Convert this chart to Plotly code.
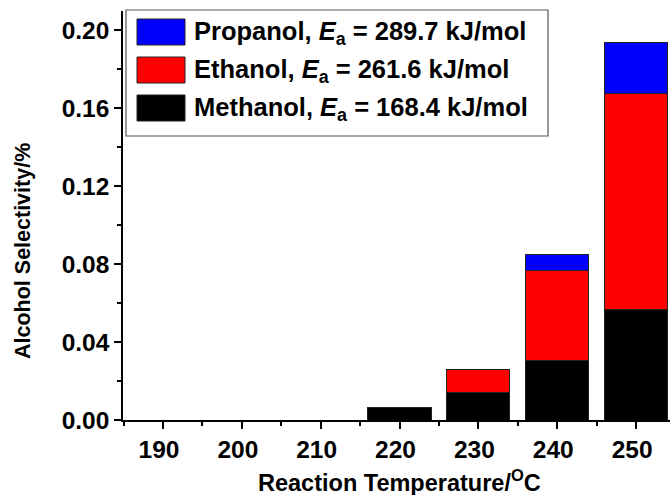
import plotly.graph_objects as go

temps = [190, 200, 210, 220, 230, 240, 250]
methanol = [0, 0, 0, 0.0066, 0.0143, 0.0306, 0.0567]
ethanol = [0, 0, 0, 0, 0.0117, 0.0463, 0.1107]
propanol = [0, 0, 0, 0, 0, 0.0080, 0.0263]
series_names = ["Methanol", "Ethanol", "Propanol"]
ea_values = ["168.4", "261.6", "289.7"]
colors = ["#000000", "#ff0000", "#0000ff"]
y_ticks = [0.00, 0.04, 0.08, 0.12, 0.16, 0.20]
x_title = "Reaction Temperature/<sup>O</sup>C"
y_title = "Alcohol Selectivity/%"

W, H = 670, 495
ML, MR, MT, MB = 123, 0, 11, 75
PW, PH = W - ML - MR, H - MT - MB

def px(x):
    return (x - ML) / PW

def py(y):
    return 1 - (y - MT) / PH

FONT = "Liberation Sans, Arial, sans-serif"

fig = go.Figure()
for name, vals, col in zip(series_names, [methanol, ethanol, propanol], colors):
    fig.add_trace(go.Bar(
        x=temps, y=vals, name=name, width=8,
        marker=dict(color=col, line=dict(color="#222222", width=1)),
        showlegend=False,
    ))

fig.update_layout(
    width=W, height=H, barmode="stack",
    margin=dict(l=ML, r=MR, t=MT, b=MB, autoexpand=False),
    plot_bgcolor="white", paper_bgcolor="white",
    font=dict(family=FONT, size=21, color="black"),
)
fig.update_xaxes(
    range=[184.93, 254.3], tickvals=temps,
    ticktext=[f"<b>{t}</b>" for t in temps],
    ticks="outside", ticklen=7, tickwidth=1.5, tickcolor="black",
    minor=dict(ticks="outside", ticklen=4, tickwidth=1.5, tickcolor="black", dtick=10, tick0=185),
    showline=True, linecolor="black", linewidth=1.5, showgrid=False, zeroline=False,
    tickfont=dict(size=24.5), ticklabelshift=-4,
)
fig.update_yaxes(
    range=[0, 0.21], tickvals=y_ticks,
    ticktext=[f"<b>{v:.2f}</b>" for v in y_ticks],
    ticks="outside", ticklen=7, tickwidth=1.5, tickcolor="black",
    minor=dict(ticks="outside", ticklen=4, tickwidth=1.5, tickcolor="black", dtick=0.02, tick0=0),
    showline=True, linecolor="black", linewidth=1.5, showgrid=False, zeroline=False,
    tickfont=dict(size=24.5),
)

# axis titles placed as in the reference
fig.add_annotation(xref="paper", yref="paper", x=px(399), y=py(481),
                   xanchor="center", yanchor="middle", showarrow=False,
                   text=f"<b>{x_title}</b>", font=dict(size=23.5))
fig.add_annotation(xref="paper", yref="paper", x=px(23), y=py(251),
                   xanchor="center", yanchor="middle", showarrow=False, textangle=-90,
                   text=f"<b>{y_title}</b>", font=dict(size=21.5))

# manual legend (large swatches as in the reference)
fig.add_shape(type="rect", xref="paper", yref="paper",
              x0=px(126), x1=px(548), y0=py(136), y1=py(10),
              line=dict(color="#555555", width=1.2), fillcolor="white", layer="above")
rows = [(2, 19), (1, 57), (0, 95)]
for idx, ytop in rows:
    fig.add_shape(type="rect", xref="paper", yref="paper",
                  x0=px(137), x1=px(185), y0=py(ytop + 26), y1=py(ytop),
                  line=dict(color="#222222", width=1), fillcolor=colors[idx], layer="above")
    fig.add_annotation(
        xref="paper", yref="paper", x=px(192), y=py(ytop + 14),
        xanchor="left", yanchor="middle", showarrow=False,
        text=f"<b>{series_names[idx]}, <i>E</i><sub>a</sub> = {ea_values[idx]} kJ/mol</b>",
        font=dict(size=25.5, color="black"),
    )

fig.write_html("out.html")
